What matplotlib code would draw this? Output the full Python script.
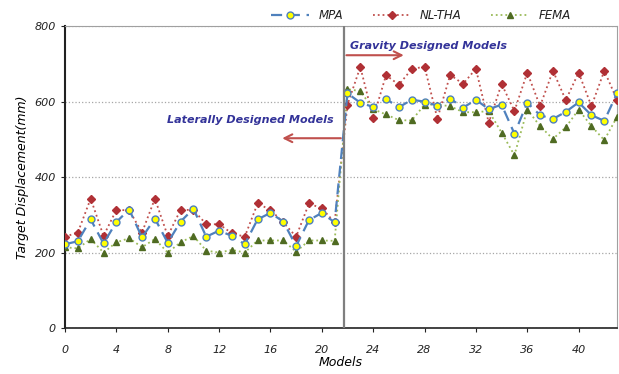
import numpy as np
import matplotlib
matplotlib.use("Agg")
import matplotlib.pyplot as plt

# -------------------------------------------------------------------------------------------------- #

# Target displacement (mm) for each model, laterally designed (0-21) then gravity designed (22-43)
models = np.arange(44)

mpa = [222, 230, 288, 224, 281, 314, 240, 290, 226, 282, 316, 242, 258, 244, 222, 288, 305, 282, 217, 286, 305, 280,
       622, 597, 586, 607, 585, 605, 600, 589, 608, 584, 605, 580, 592, 515, 597, 564, 554, 573, 598, 564, 549, 623]
nl_tha = [242, 253, 343, 244, 313, 312, 253, 343, 244, 313, 313, 275, 275, 251, 242, 330, 313, 280, 242, 330, 317, 280,
          592, 692, 556, 670, 645, 686, 693, 555, 671, 647, 687, 544, 647, 575, 677, 588, 682, 604, 677, 588, 682, 604]
fema = [214, 211, 236, 200, 227, 238, 214, 236, 200, 227, 244, 205, 200, 207, 200, 232, 232, 232, 202, 232, 232, 231,
        633, 628, 580, 566, 551, 550, 592, 592, 588, 572, 572, 575, 518, 458, 579, 535, 501, 532, 579, 535, 498, 560]

split_x = 21.7  # boundary between the two model groups

xticks = list(range(0, 44, 4))
yticks = [0, 200, 400, 600, 800]

# -------------------------------------------------------------------------------------------------- #

fig = plt.figure(figsize=(6.19, 3.74), dpi=100)
ax = fig.add_axes([0.105, 0.123, 0.892, 0.807])

ax.plot(models, mpa, linestyle=(0, (5, 3)), color='#4f81bd', lw=1.6,
        marker='o', markersize=5, markerfacecolor='#ffff00', markeredgecolor='#4f81bd',
        markeredgewidth=1.0, label='MPA', zorder=4)
ax.plot(models, nl_tha, linestyle=':', color='#c0504d', lw=1.3,
        marker='D', markersize=3.6, markerfacecolor='#b03035', markeredgecolor='#b03035',
        label='NL-THA', zorder=3)
ax.plot(models, fema, linestyle=':', color='#9bbb59', lw=1.3,
        marker='^', markersize=4.6, markerfacecolor='#4f6b22', markeredgecolor='#4f6b22',
        label='FEMA', zorder=3)

# Group divider
ax.axvline(split_x, color='#7f7f7f', lw=1.6, zorder=5)

# Group labels with arrows
ax.annotate('', xy=(26.6, 723), xytext=(split_x, 723),
            arrowprops=dict(arrowstyle='->', color='#c0504d', lw=1.5, mutation_scale=14))
ax.text(22.2, 748, 'Gravity Designed Models', color='#333399', fontsize=8,
        fontweight='bold', style='italic', va='center', ha='left')

ax.annotate('', xy=(16.7, 503), xytext=(split_x, 503),
            arrowprops=dict(arrowstyle='->', color='#c0504d', lw=1.5, mutation_scale=14))
ax.text(20.9, 552, 'Laterally Designed Models', color='#333399', fontsize=8,
        fontweight='bold', style='italic', va='center', ha='right')

ax.set_xlim(0, 43)
ax.set_ylim(0, 800)
ax.set_xticks(xticks)
ax.set_yticks(yticks)
ax.tick_params(labelsize=8, colors='#222222', length=3)
for lbl in ax.get_xticklabels() + ax.get_yticklabels():
    lbl.set_style('italic')
ax.tick_params(axis='x', pad=9)

ax.yaxis.grid(True, linestyle=':', color='#a6a6a6', lw=0.9)
ax.set_axisbelow(True)

ax.spines['left'].set_color('#222222')
ax.spines['left'].set_linewidth(1.5)
ax.spines['bottom'].set_color('#222222')
ax.spines['bottom'].set_linewidth(1.2)
ax.spines['top'].set_color('#a0a0a0')
ax.spines['right'].set_color('#a0a0a0')

ax.set_xlabel('Models', fontsize=9, style='italic', labelpad=1)
ax.set_ylabel('Target Displacement(mm)', fontsize=9, style='italic')

leg = ax.legend(loc='lower center', bbox_to_anchor=(0.645, 0.995), ncol=3, frameon=False,
                fontsize=8.5, handlelength=3.2, columnspacing=2.5, borderaxespad=0.1)
for t in leg.get_texts():
    t.set_style('italic')
    t.set_color('#222222')

fig.savefig('out.png', dpi=100)
